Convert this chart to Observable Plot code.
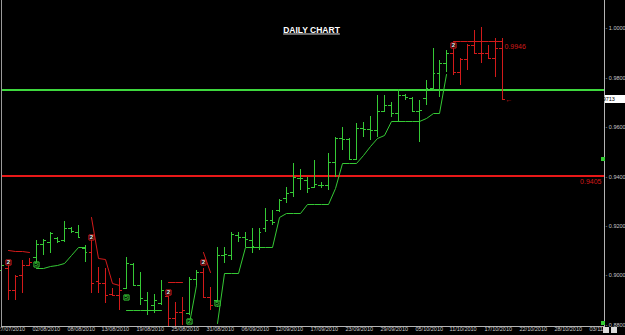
<!DOCTYPE html>
<html><head><meta charset="utf-8">
<script src="https://cdn.jsdelivr.net/npm/d3@7"></script>
<script src="https://cdn.jsdelivr.net/npm/@observablehq/plot@0.6"></script>
<style>
html,body{margin:0;padding:0;background:#000;overflow:hidden}
#wrap{position:relative;width:625px;height:335px}
.btn{position:absolute;top:327px;width:6px;height:6px;background:#dcdcdc;border:0}
.sq{position:absolute;width:4px;height:4px;background:#3c3;}
</style></head><body><div id="wrap"></div>
<script>
// Daily OHLC bars, index 0 = 28/07/2010 (one bar per trading day incl. Sunday bars)
const opens = [0.9022,0.9030,0.8941,0.9002,0.9042,0.9075,0.9127,0.9136,0.9152,0.9144,
  0.9192,0.9176,0.9111,0.9095,0.8978,0.8970,0.8925,0.8921,0.8950,0.9046,
  0.8962,0.8901,0.8881,0.8889,0.8917,0.8829,0.8853,0.8849,0.8986,0.9014,
  0.8913,0.8901,0.9083,0.9083,0.9164,0.9156,0.9144,0.9115,0.9192,0.9224,
  0.9265,0.9313,0.9337,0.9394,0.9386,0.9358,0.9366,0.9366,0.9459,0.9556,
  0.9552,0.9471,0.9596,0.9592,0.9588,0.9665,0.9689,0.9657,0.9729,0.9717,
  0.9665,0.9717,0.9758,0.9818,0.9859,0.9899,0.9822,0.9875,0.9931,0.9899,
  0.9899,0.9879,0.9919];
const highs = [0.9055,0.9046,0.9002,0.9063,0.9071,0.9144,0.9148,0.9176,0.9156,0.9220,
  0.9196,0.9204,0.9123,0.9156,0.9034,0.9030,0.8950,0.8990,0.9075,0.9050,
  0.9014,0.8933,0.8925,0.8982,0.8917,0.8893,0.8913,0.8994,0.9022,0.9030,
  0.8954,0.9115,0.9115,0.9176,0.9176,0.9176,0.9192,0.9192,0.9273,0.9265,
  0.9309,0.9358,0.9455,0.9430,0.9398,0.9467,0.9378,0.9495,0.9560,0.9600,
  0.9556,0.9616,0.9620,0.9644,0.9729,0.9729,0.9701,0.9754,0.9733,0.9721,
  0.9709,0.9790,0.9919,0.9871,0.9911,0.9931,0.9879,0.9935,0.9992,1.0004,
  0.9931,0.9960,0.9960];
const lows = [0.9006,0.8901,0.8901,0.8929,0.9038,0.9055,0.9083,0.9091,0.9131,0.9136,
  0.9172,0.9152,0.9055,0.8929,0.8929,0.8889,0.8917,0.8861,0.8946,0.8962,
  0.8881,0.8841,0.8849,0.8881,0.8792,0.8792,0.8800,0.8841,0.8962,0.8913,
  0.8861,0.8873,0.9050,0.9063,0.9136,0.9115,0.9091,0.9103,0.9176,0.9204,
  0.9257,0.9293,0.9317,0.9346,0.9333,0.9354,0.9354,0.9346,0.9398,0.9507,
  0.9467,0.9467,0.9560,0.9548,0.9560,0.9661,0.9640,0.9620,0.9709,0.9661,
  0.9539,0.9689,0.9750,0.9721,0.9822,0.9810,0.9770,0.9830,0.9899,0.9859,
  0.9875,0.9802,0.9709];
const closes = [0.9042,0.8941,0.8998,0.9042,0.9055,0.9127,0.9144,0.9172,0.9140,0.9192,
  0.9180,0.9156,0.9095,0.8970,0.8970,0.8921,0.8921,0.8941,0.9050,0.8962,
  0.8909,0.8861,0.8901,0.8941,0.8829,0.8853,0.8861,0.8986,0.9014,0.8913,
  0.8881,0.9083,0.9087,0.9168,0.9156,0.9148,0.9119,0.9176,0.9224,0.9216,
  0.9305,0.9333,0.9398,0.9394,0.9354,0.9370,0.9366,0.9459,0.9556,0.9552,
  0.9471,0.9596,0.9592,0.9588,0.9665,0.9689,0.9657,0.9729,0.9721,0.9665,
  0.9669,0.9758,0.9818,0.9859,0.9899,0.9822,0.9875,0.9931,0.9899,0.9899,
  0.9879,0.9919,0.9713];
// trailing stop below price (up trend) / above price (down trend)
const stopUp = [null,null,null,null,null,0.9030,0.9030,0.9038,0.9042,0.9050,
  0.9083,0.9115,0.9115,null,null,null,null,null,0.8861,0.8861,
  0.8861,0.8861,0.8861,0.8861,null,null,null,0.8808,0.8962,null,
  null,0.8808,0.9010,0.9010,0.9010,0.9115,0.9115,0.9115,0.9115,0.9115,
  0.9237,0.9253,0.9253,0.9253,0.9289,0.9289,0.9289,0.9289,0.9354,0.9455,
  0.9455,0.9455,0.9487,0.9523,0.9556,0.9568,0.9624,0.9624,0.9624,0.9624,
  0.9624,0.9636,0.9657,0.9657,0.9814,null,null,null,null,null,
  null,null,null];
const stopDn = [null,0.9103,0.9099,0.9099,0.9095,null,null,null,null,null,
  null,null,null,0.9237,0.9071,0.9067,0.8970,0.8962,null,null,
  null,null,null,null,0.8974,0.8974,0.8974,null,null,0.9095,
  0.9014,null,null,null,null,null,null,null,null,null,
  null,null,null,null,null,null,null,null,null,null,
  null,null,null,null,null,null,null,null,null,null,
  null,null,null,null,null,0.9946,0.9946,0.9946,0.9946,0.9946,
  0.9946,0.9946,0.9946];
// signal markers
const markerIdx = [1,5,13,18,24,27,29,31,65];
const markerPrice = [0.9055,0.9046,0.9156,0.8913,0.8933,0.8816,0.9055,0.8889,0.9931];
const markerText = ["2","5","2","5","2","2","2","5","2"];
const markerDir = ["dn","up","dn","up","dn","up","dn","up","dn"];
// axis ticks
const yTicks = [1.0,0.98,0.96,0.94,0.92,0.90,0.88];
const dateLabels = ["27/07/2010","02/08/2010","08/08/2010","13/08/2010","19/08/2010","25/08/2010",
  "31/08/2010","06/09/2010","12/09/2010","17/09/2010","23/09/2010","29/09/2010","05/10/2010",
  "11/10/2010","17/10/2010","22/10/2010","28/10/2010","03/11/"];
const dateIdx = [-1,4,9,14,19,24,29,34,39,44,49,54,59,64,69,74,79,84];
// horizontal levels
const levelValues = [0.9754, 0.9405];
const levelColors = ["#3ed83e", "#e81818"];
const redLevelText = ["0.9405"];
const stopLabel = ["0.9946"];
const lastPrice = 0.9713;
const title = ["DAILY CHART"];

const GREEN = "#35c935", RED = "#d21a1a", AX = "#c8c8c8";

const data = opens.map((o,i)=>({i, open:o, high:highs[i], low:lows[i], close:closes[i], up:stopUp[i], dn:stopDn[i]}));
const isDn = d => d.dn != null;
const markers = markerIdx.map((i,k)=>({i, p:markerPrice[k], t:markerText[k], dir:markerDir[k]}));
const dates = dateLabels.map((t,k)=>({i:dateIdx[k], t}));
const last = data[data.length-1];
const levels = levelValues.map((v,k)=>({v, c:levelColors[k]}));

const barMarks = (filter, color) => [
  Plot.ruleX(data, {filter, x:"i", y1:"low", y2:"high", stroke:color, strokeWidth:1}),
  Plot.ruleY(data, {filter, y:"open", x1:d=>d.i-0.42, x2:"i", stroke:color, strokeWidth:1}),
  Plot.ruleY(data, {filter, y:"close", x1:"i", x2:d=>d.i+0.42, stroke:color, strokeWidth:1})
];

const plot = Plot.plot({
  width:625, height:335,
  marginLeft:2, marginRight:21, marginTop:0, marginBottom:9,
  style:{background:"#000", fontFamily:"Liberation Sans, Arial, sans-serif"},
  x:{type:"linear", domain:[0,72], range:[1,502.1], round:true, axis:null},
  y:{type:"linear", domain:[0.88,1.0], range:[325,28], round:true, axis:null},
  color:{type:"identity"},
  marks:[
    Plot.ruleY(levels, {y:"v", stroke:"c", strokeWidth:2, dy:0.5}),
    Plot.line(data, {x:"i", y:"up", stroke:GREEN, strokeWidth:1}),
    Plot.line(data, {x:"i", y:"dn", stroke:RED, strokeWidth:1}),
    ...barMarks(d=>!isDn(d), GREEN),
    ...barMarks(isDn, RED),
    Plot.dot(markers, {x:"i", y:"p", symbol:"square", r:2.9, fill:"#000", stroke:d=>d.dir==="dn"?RED:GREEN, strokeWidth:1}),
    Plot.text(markers, {x:"i", y:"p", text:"t", fill:d=>d.dir==="dn"?"#f0f0f0":GREEN, fontSize:6, fontWeight:"bold"}),
    Plot.text(stopLabel, {x:()=>72, y:d=>+d, text:d=>d, textAnchor:"start", dx:2, dy:5, fill:RED, fontSize:7}),
    Plot.text(redLevelText, {y:d=>+d, text:d=>d, frameAnchor:"right", textAnchor:"end", dx:-3, dy:6.5, fill:RED, fontSize:7}),
    Plot.text([last], {x:"i", y:"close", text:()=>"←", textAnchor:"start", dx:3, fill:RED, fontSize:7}),
    Plot.text(yTicks, {y:d=>d, text:d=>"- "+d.toFixed(4), frameAnchor:"right", textAnchor:"start", dx:1, fill:AX, fontSize:5.5}),
    Plot.text(dates, {x:"i", text:"t", frameAnchor:"bottom", textAnchor:"start", dx:3, dy:4.5, fill:AX, fontSize:5.5}),
    Plot.text(title, {text:d=>d, frameAnchor:"top", dy:26, dx:8, fill:"#fff", fontSize:8.5, fontWeight:"bold"})
  ]
});
document.getElementById("wrap").appendChild(plot);

const svg = d3.select(plot);
svg.selectAll("text").filter(function(){return this.textContent === "DAILY CHART";})
  .style("text-decoration","underline");
const right = 625-21, bottom = 335-9;
const ys = plot.scale("y");
const g = svg.append("g");
g.append("line").attr("x1",1.5).attr("x2",1.5).attr("y1",0).attr("y2",bottom).attr("stroke","#9a9a9a");
g.append("line").attr("x1",right+0.5).attr("x2",right+0.5).attr("y1",0).attr("y2",bottom+4).attr("stroke","#b4b4b4");
g.append("line").attr("x1",1).attr("x2",right).attr("y1",bottom+0.5).attr("y2",bottom+0.5).attr("stroke","#b4b4b4");
const yl = ys.apply(lastPrice);
g.append("rect").attr("x",right+1).attr("y",yl-4).attr("width",21).attr("height",8).attr("fill","#fff");
g.append("text").attr("x",right+2.5).attr("y",yl+2).attr("font-size","5.5px").attr("fill","#000")
  .attr("font-family","Liberation Sans, Arial, sans-serif").text(lastPrice.toFixed(4));

const wrap = document.getElementById("wrap");
[603,611].forEach(x=>{const b=document.createElement("div");b.className="btn";b.style.left=x+"px";wrap.appendChild(b);});
[[601,157],[601,321]].forEach(([x,y])=>{const s=document.createElement("div");s.className="sq";s.style.left=x+"px";s.style.top=y+"px";wrap.appendChild(s);});
</script>
</body></html>
